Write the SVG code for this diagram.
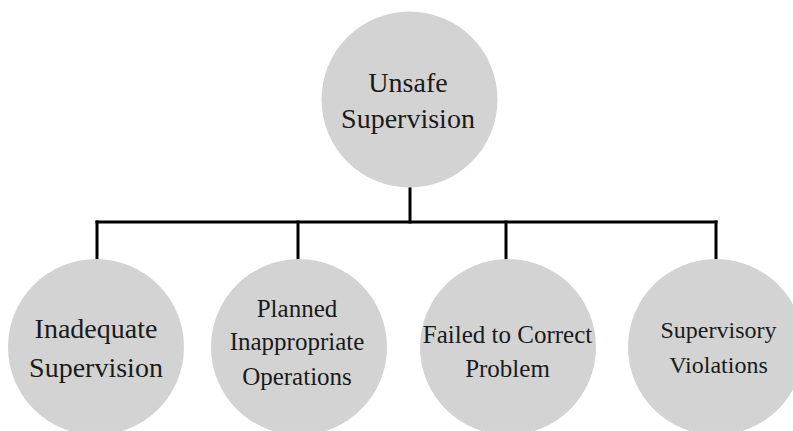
<svg xmlns="http://www.w3.org/2000/svg" width="793" height="431" viewBox="0 0 793 431">
  <style>
    .node circle { fill: #d3d3d3; }
    .node text { font-family: 'Liberation Serif', 'Times New Roman', Times, 'DejaVu Serif', serif; fill: #1a1a1a; text-anchor: middle; }
    .wire { fill: none; stroke: #000; stroke-width: 3; stroke-linecap: square; }
  </style>
  <rect width="793" height="431" fill="#ffffff"/>

  <!-- tree connectors -->
  <g id="connectors">
    <path class="wire" d="M410 187 V222"/>
    <path class="wire" d="M97 222 H716"/>
    <path class="wire" d="M97 222 V258"/>
    <path class="wire" d="M298 222 V258"/>
    <path class="wire" d="M506 222 V258"/>
    <path class="wire" d="M716 222 V258"/>
  </g>

  <g id="unsafe-supervision" class="node">
    <circle cx="409.5" cy="99.5" r="88"/>
    <text x="408" y="92" font-size="28">Unsafe</text>
    <text x="408" y="128" font-size="28">Supervision</text>
  </g>

  <g id="inadequate-supervision" class="node">
    <circle cx="96" cy="347" r="88"/>
    <text x="96" y="338" font-size="28">Inadequate</text>
    <text x="96" y="377" font-size="28">Supervision</text>
  </g>

  <g id="planned-inappropriate-operations" class="node">
    <circle cx="299" cy="347" r="88"/>
    <text x="297" y="317" font-size="25">Planned</text>
    <text x="297" y="350" font-size="25">Inappropriate</text>
    <text x="297" y="385" font-size="25">Operations</text>
  </g>

  <g id="failed-to-correct-problem" class="node">
    <circle cx="508" cy="347" r="88"/>
    <text x="507.5" y="343" font-size="25">Failed to Correct</text>
    <text x="507.5" y="377" font-size="25">Problem</text>
  </g>

  <g id="supervisory-violations" class="node">
    <circle cx="716" cy="347" r="88"/>
    <text x="718.5" y="338" font-size="24">Supervisory</text>
    <text x="718.5" y="373" font-size="24">Violations</text>
  </g>
</svg>
